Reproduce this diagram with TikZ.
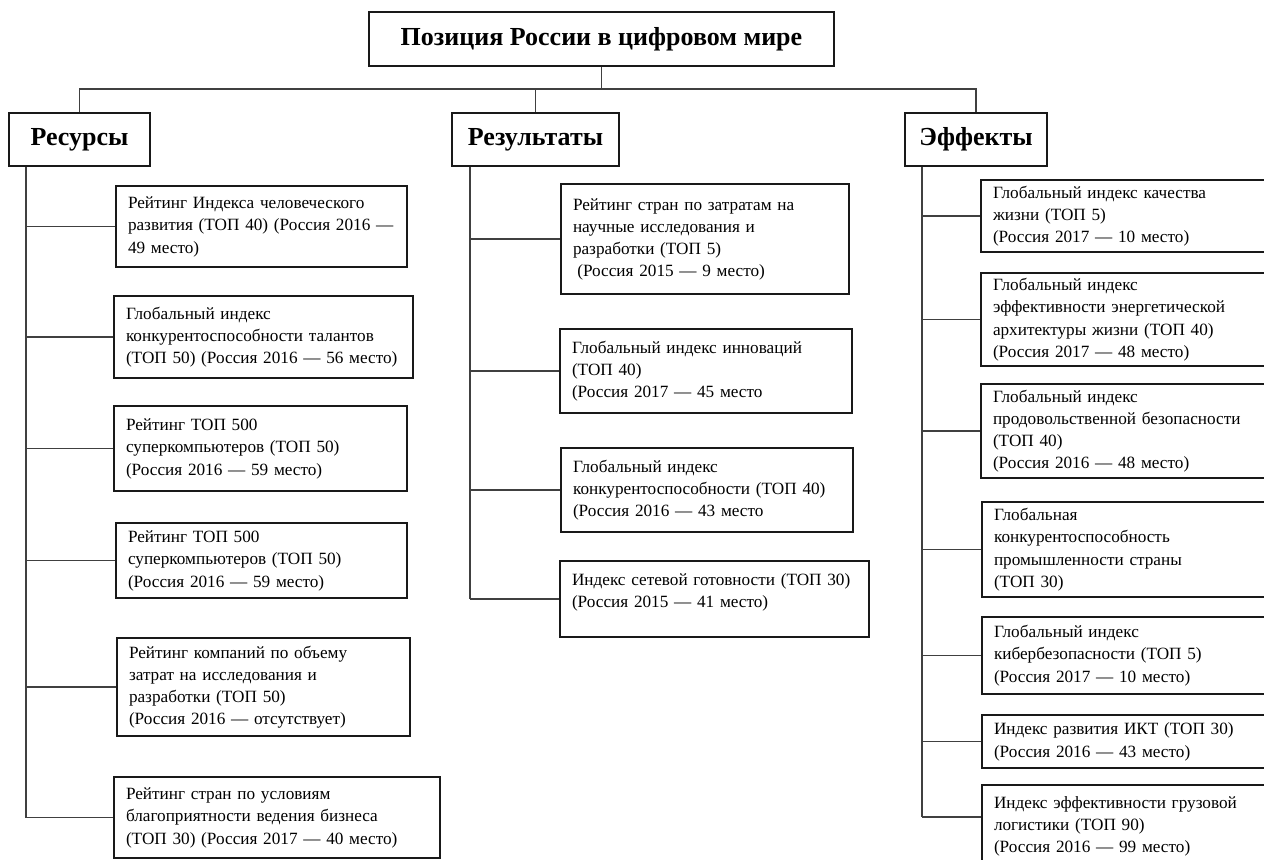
\documentclass[tikz,border=0pt]{standalone}
\usepackage{fontspec}
\setmainfont{Liberation Serif}
\newcommand{\boxlines}[1]{\noindent\begin{tabular}{@{}l@{}}#1\end{tabular}}
\begin{document}
\begin{tikzpicture}[x=0.5pt,y=-0.5pt,
  hdr/.style={draw=black!90, line width=1pt, rectangle, inner sep=0pt,
    font=\fontsize{13}{15}\selectfont\bfseries},
  item/.style={draw=black!90, line width=1pt, rectangle, inner xsep=6pt, inner ysep=0pt,
    font=\fontsize{8.6}{11.15}\selectfont},
  conn/.style={draw=black!75, line width=0.6pt}]
\useasboundingbox (0,0) rectangle (1264,859);
\fill[white] (0,0) rectangle (1264,859);
\clip (0,0) rectangle (1264,859);

% headers
\node[hdr, minimum width=232.5pt, minimum height=27pt] (top) at (601.5,39) {Позиция России в цифровом мире};
\node[hdr, minimum width=70.5pt, minimum height=26.5pt] (res) at (79.5,139.5) {Ресурсы};
\node[hdr, minimum width=83.5pt, minimum height=26.5pt] (rez) at (535.5,139.5) {Результаты};
\node[hdr, minimum width=71pt, minimum height=26.5pt] (eff) at (976,139.5) {Эффекты};

% left column
\node[item, text width=133.5pt, minimum height=40.5pt] (L1) at (261.5,226.5) {\boxlines{Рейтинг Индекса человеческого\\развития (ТОП 40) (Россия 2016 —\\49 место)}};
\node[item, text width=137.5pt, minimum height=41pt] (L2) at (263.5,337) {\boxlines{Глобальный индекс\\конкурентоспособности талантов\\(ТОП 50) (Россия 2016 — 56 место)}};
\node[item, text width=134.5pt, minimum height=42.5pt] (L3) at (260.5,448.5) {\boxlines{Рейтинг ТОП 500\\суперкомпьютеров (ТОП 50)\\(Россия 2016 — 59 место)}};
\node[item, text width=133.5pt, minimum height=37.5pt] (L4) at (261.5,560.5) {\boxlines{Рейтинг ТОП 500\\суперкомпьютеров (ТОП 50)\\(Россия 2016 — 59 место)}};
\node[item, text width=134.5pt, minimum height=49pt] (L5) at (263.5,687) {\boxlines{Рейтинг компаний по объему\\затрат на исследования и\\разработки (ТОП 50)\\(Россия 2016 — отсутствует)}};
\node[item, text width=151pt, minimum height=40.5pt] (L6) at (277,817.5) {\boxlines{Рейтинг стран по условиям\\благоприятности ведения бизнеса\\(ТОП 30) (Россия 2017 — 40 место)}};

% middle column
\node[item, text width=132pt, minimum height=55pt] (R1) at (705,239) {\boxlines{Рейтинг стран по затратам на\\научные исследования и\\разработки (ТОП 5)\\\hspace*{0.25em}(Россия 2015 — 9 место)}};
\node[item, text width=134pt, minimum height=42pt] (R2) at (706,371) {\boxlines{Глобальный индекс инноваций\\(ТОП 40)\\(Россия 2017 — 45 место}};
\node[item, text width=134pt, minimum height=42pt] (R3) at (707,490) {\boxlines{Глобальный индекс\\конкурентоспособности (ТОП 40)\\(Россия 2016 — 43 место}};
\node[item, text width=142.5pt, minimum height=38pt, text depth=16pt] (R4) at (714.5,599) {\boxlines{Индекс сетевой готовности (ТОП 30)\\(Россия 2015 — 41 место)}};

% right column
\node[item, text width=135pt, minimum height=36pt] (E1) at (1128,216) {\boxlines{Глобальный индекс качества\\жизни (ТОП 5)\\(Россия 2017 — 10 место)}};
\node[item, text width=135pt, minimum height=46.5pt] (E2) at (1128,319.5) {\boxlines{Глобальный индекс\\эффективности энергетической\\архитектуры жизни (ТОП 40)\\(Россия 2017 — 48 место)}};
\node[item, text width=135pt, minimum height=47pt] (E3) at (1128,431) {\boxlines{Глобальный индекс\\продовольственной безопасности\\(ТОП 40)\\(Россия 2016 — 48 место)}};
\node[item, text width=135pt, minimum height=47.5pt] (E4) at (1129,549.5) {\boxlines{Глобальная\\конкурентоспособность\\промышленности страны\\(ТОП 30)}};
\node[item, text width=135pt, minimum height=38.5pt] (E5) at (1129,655.5) {\boxlines{Глобальный индекс\\кибербезопасности (ТОП 5)\\(Россия 2017 — 10 место)}};
\node[item, text width=135pt, minimum height=26.5pt] (E6) at (1129,741.5) {\boxlines{Индекс развития ИКТ (ТОП 30)\\(Россия 2016 — 43 место)}};
\node[item, text width=135pt, minimum height=41pt] (E7) at (1129,826) {\boxlines{Индекс эффективности грузовой\\логистики (ТОП 90)\\(Россия 2016 — 99 место)}};

% top connectors
\coordinate (hub) at (601.5,89);
\draw[conn] (top.south) -- (hub);
\draw[conn] (res.north) -- (res.north |- hub) -- (eff.north |- hub) -- (eff.north);
\draw[conn] (rez.north) -- (rez.north |- hub);

% trunks
\coordinate (rt) at ([xshift=9pt]res.south west);
\coordinate (mt) at ([xshift=9.5pt]rez.south west);
\coordinate (et) at ([xshift=9pt]eff.south west);
\coordinate (e7b) at (E7.west |- 0,817);

\draw[conn] (rt) -- (rt |- L6.west);
\foreach \n in {L1,L2,L3,L4,L5,L6} \draw[conn] (\n.west) -- (\n.west -| rt);

\draw[conn] (mt) -- (mt |- R4.west);
\foreach \n in {R1,R2,R3,R4} \draw[conn] (\n.west) -- (\n.west -| mt);

\draw[conn] (et) -- (et |- e7b);
\foreach \n in {E1,E2,E3,E4,E5,E6} \draw[conn] (\n.west) -- (\n.west -| et);
\draw[conn] (e7b) -- (e7b -| et);
\end{tikzpicture}
\end{document}
